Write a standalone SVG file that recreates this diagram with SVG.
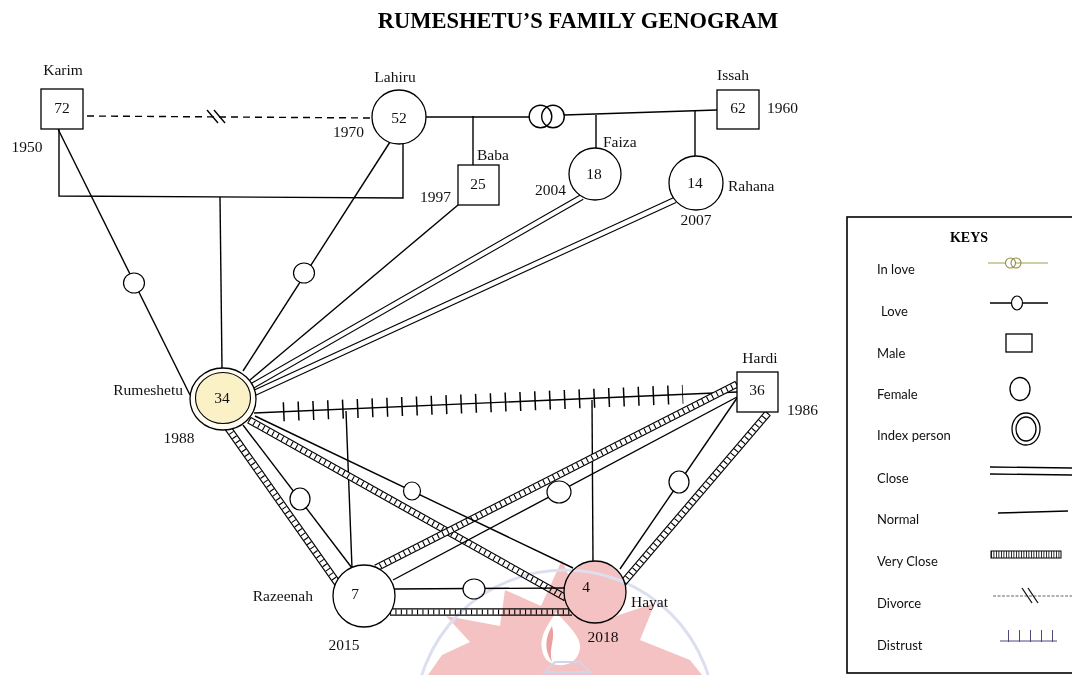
<svg xmlns="http://www.w3.org/2000/svg" xmlns:xlink="http://www.w3.org/1999/xlink" width="1072" height="675" viewBox="0 0 1072 675">
<style>
.t{font-family:"Liberation Serif","Times New Roman",serif;font-size:15.5px;fill:#111}
.c{text-anchor:middle}
.e{text-anchor:end}
.k{font-family:Lato,"Liberation Sans",sans-serif;font-size:13px;fill:#111}
.n{fill:#fff;stroke:#000;stroke-width:1.3}
.ln{fill:none;stroke:#000;stroke-width:1.4}
.lv{fill:#fff;stroke:#000;stroke-width:1.2}
.vo{stroke:#000;stroke-width:7.5}
.vi{stroke:#fff;stroke-width:5.2}
.vr{stroke:#000;stroke-width:5.2;stroke-dasharray:1.1 4.3}
.co{stroke:#000;stroke-width:6.4}
.ci{stroke:#fff;stroke-width:4.2}
</style>
<defs>
<line id="vc1" x1="228" y1="428" x2="338" y2="584"/>
<line id="vc2" x1="249" y1="420" x2="566" y2="598"/>
<line id="vc3" x1="737" y1="384" x2="376" y2="568"/>
<line id="vc4" x1="768" y1="413" x2="623" y2="583"/>
<line id="vc5" x1="390" y1="612" x2="572" y2="612"/>
<line id="cl1" x1="582" y1="197" x2="252" y2="386"/>
<line id="cl2" x1="675" y1="200" x2="254" y2="393"/>
</defs>
<rect width="1072" height="675" fill="#fff"/>
<text x="578" y="28" class="c" style="font-family:'Liberation Serif','Times New Roman',serif;font-weight:bold;font-size:22.5px">RUMESHETU’S FAMILY GENOGRAM</text>

<g id="connectors">
  <line x1="87" y1="116" x2="371" y2="118" class="ln" stroke-dasharray="7 5"/>
  <line x1="207" y1="110" x2="218" y2="123" class="ln"/>
  <line x1="214" y1="110" x2="225" y2="123" class="ln"/>
  <polyline points="426,117 529,117" class="ln"/>
  <polyline points="564,115 717,110" class="ln"/>
  <circle cx="540.5" cy="116.5" r="11.3" class="ln" stroke-width="1.2"/>
  <circle cx="553" cy="116.5" r="11.3" class="ln" stroke-width="1.2"/>
  <line x1="473" y1="116" x2="473" y2="165" class="ln"/>
  <line x1="596" y1="115" x2="596" y2="148" class="ln"/>
  <line x1="695" y1="111" x2="695" y2="156" class="ln"/>
  <polyline points="59,129 59,196 403,198 403,143" class="ln"/>
  <line x1="220" y1="197" x2="222" y2="368" class="ln"/>
  <line x1="58" y1="129" x2="190" y2="395" class="ln"/>
  <line x1="390" y1="142" x2="243" y2="371" class="ln"/>
  <line x1="458" y1="205" x2="250" y2="380" class="ln"/>
  <use xlink:href="#cl1" class="co"/><use xlink:href="#cl1" class="ci"/>
  <use xlink:href="#cl2" class="co"/><use xlink:href="#cl2" class="ci"/>
  <line x1="254" y1="413" x2="737" y2="392" class="ln"/>
  <line x1="283" y1="411.74" x2="683" y2="394.35" stroke="#000" stroke-width="19" stroke-dasharray="1.5 13.3"/>
  <line x1="346" y1="411" x2="352" y2="568" class="ln"/>
  <line x1="592" y1="400" x2="593" y2="562" class="ln"/>
  <use xlink:href="#vc1" class="vo"/><use xlink:href="#vc1" class="vi"/><use xlink:href="#vc1" class="vr"/>
  <use xlink:href="#vc2" class="vo"/><use xlink:href="#vc2" class="vi"/><use xlink:href="#vc2" class="vr"/>
  <use xlink:href="#vc3" class="vo"/><use xlink:href="#vc3" class="vi"/><use xlink:href="#vc3" class="vr"/>
  <use xlink:href="#vc4" class="vo"/><use xlink:href="#vc4" class="vi"/><use xlink:href="#vc4" class="vr"/>
  <use xlink:href="#vc5" class="vo"/><use xlink:href="#vc5" class="vi"/><use xlink:href="#vc5" class="vr"/>
  <line x1="243" y1="425" x2="352" y2="568" class="ln"/>
  <line x1="255" y1="416" x2="573" y2="568" class="ln"/>
  <line x1="737" y1="397" x2="393" y2="580" class="ln"/>
  <line x1="737" y1="398" x2="620" y2="569" class="ln"/>
  <line x1="394" y1="589" x2="565" y2="588" class="ln"/>
  <ellipse cx="134" cy="283" rx="10.5" ry="10" class="lv"/>
  <ellipse cx="304" cy="273" rx="10.5" ry="10" class="lv"/>
  <ellipse cx="300" cy="499" rx="10" ry="11" class="lv"/>
  <ellipse cx="412" cy="491" rx="8.5" ry="9" class="lv"/>
  <ellipse cx="559" cy="492" rx="12" ry="11" class="lv"/>
  <ellipse cx="679" cy="482" rx="10" ry="11" class="lv"/>
  <ellipse cx="474" cy="589" rx="11" ry="10" class="lv"/>
</g>

<g id="karim">
  <rect x="41" y="89" width="42" height="40" class="n"/>
  <text x="62" y="113" class="t c">72</text>
  <text x="63" y="75" class="t c">Karim</text>
  <text x="27" y="152" class="t c">1950</text>
</g>
<g id="lahiru">
  <circle cx="399" cy="117" r="27" class="n"/>
  <text x="399" y="123" class="t c">52</text>
  <text x="395" y="82" class="t c">Lahiru</text>
  <text x="364" y="137" class="t e">1970</text>
</g>
<g id="baba">
  <rect x="458" y="165" width="41" height="40" class="n"/>
  <text x="478" y="189" class="t c">25</text>
  <text x="477" y="160" class="t">Baba</text>
  <text x="451" y="202" class="t e">1997</text>
</g>
<g id="faiza">
  <circle cx="595" cy="174" r="26" class="n"/>
  <text x="594" y="179" class="t c">18</text>
  <text x="603" y="147" class="t">Faiza</text>
  <text x="566" y="195" class="t e">2004</text>
</g>
<g id="issah">
  <rect x="717" y="90" width="42" height="39" class="n"/>
  <text x="738" y="113" class="t c">62</text>
  <text x="733" y="80" class="t c">Issah</text>
  <text x="767" y="113" class="t">1960</text>
</g>
<g id="rahana">
  <circle cx="696" cy="183" r="27" class="n"/>
  <text x="695" y="188" class="t c">14</text>
  <text x="728" y="191" class="t">Rahana</text>
  <text x="696" y="225" class="t c">2007</text>
</g>
<g id="rumeshetu">
  <ellipse cx="223" cy="399" rx="33" ry="31" fill="#fffdf3" stroke="#000" stroke-width="1.3"/>
  <ellipse cx="223" cy="398" rx="27.5" ry="25.5" fill="#fbf1c6" stroke="#000" stroke-width="1.1"/>
  <text x="222" y="403" class="t c">34</text>
  <text x="183" y="395" class="t e">Rumeshetu</text>
  <text x="179" y="443" class="t c">1988</text>
</g>
<g id="hardi">
  <rect x="737" y="372" width="41" height="40" class="n"/>
  <text x="757" y="395" class="t c">36</text>
  <text x="760" y="363" class="t c">Hardi</text>
  <text x="787" y="415" class="t">1986</text>
</g>
<g id="razeenah">
  <circle cx="364" cy="596" r="31" class="n"/>
  <text x="355" y="599" class="t c">7</text>
  <text x="313" y="601" class="t e">Razeenah</text>
  <text x="344" y="650" class="t c">2015</text>
</g>
<g id="hayat">
  <circle cx="595" cy="592" r="31" class="n"/>
  <text x="586" y="592" class="t c">4</text>
  <text x="631" y="607" class="t">Hayat</text>
  <text x="603" y="642" class="t c">2018</text>
</g>

<g id="keys">
  <rect x="847" y="217" width="240" height="456" fill="none" stroke="#000" stroke-width="1.6"/>
  <text x="969" y="242" class="c" style="font-family:'Liberation Serif',serif;font-weight:bold;font-size:14px">KEYS</text>
  <text x="877" y="274" class="k">In love</text>
  <text x="881" y="316" class="k">Love</text>
  <text x="877" y="358" class="k">Male</text>
  <text x="877" y="399" class="k">Female</text>
  <text x="877" y="440" class="k">Index person</text>
  <text x="877" y="483" class="k">Close</text>
  <text x="877" y="524" class="k">Normal</text>
  <text x="877" y="566" class="k">Very Close</text>
  <text x="877" y="608" class="k">Divorce</text>
  <text x="877" y="650" class="k">Distrust</text>
  <line x1="988" y1="263" x2="1048" y2="263" stroke="#a0a050" stroke-width="1.1"/>
  <circle cx="1010.5" cy="263" r="5" fill="#fff" stroke="#8f8f48" stroke-width="1.1"/>
  <circle cx="1016" cy="263" r="5" fill="none" stroke="#8f8f48" stroke-width="1.1"/>
  <line x1="990" y1="303" x2="1048" y2="303" class="ln" stroke-width="1.2"/>
  <ellipse cx="1017" cy="303" rx="5.5" ry="7" class="lv"/>
  <rect x="1006" y="334" width="26" height="18" class="n" stroke-width="1.1"/>
  <ellipse cx="1020" cy="389" rx="10" ry="11.5" class="n" stroke-width="1.1"/>
  <ellipse cx="1026" cy="429" rx="14" ry="16" class="n" stroke-width="1.1"/>
  <ellipse cx="1026" cy="429" rx="10" ry="12" class="n" stroke-width="1.1"/>
  <line x1="990" y1="467" x2="1073" y2="468" class="ln" stroke-width="1.2"/>
  <line x1="990" y1="474" x2="1073" y2="475" class="ln" stroke-width="1.2"/>
  <line x1="998" y1="513" x2="1068" y2="511" class="ln" stroke-width="1.2"/>
  <rect x="991" y="551" width="70" height="7" fill="#fff" stroke="#000" stroke-width="1"/>
  <line x1="991" y1="554.5" x2="1061" y2="554.5" stroke="#000" stroke-width="7" stroke-dasharray="0.8 1.7"/>
  <line x1="993" y1="596" x2="1072" y2="596" stroke="#555" stroke-width="0.9" stroke-dasharray="3 1.5"/>
  <line x1="1022" y1="588" x2="1032" y2="603" stroke="#111" stroke-width="1.3"/>
  <line x1="1028" y1="588" x2="1038" y2="603" stroke="#111" stroke-width="1.3"/>
  <line x1="1000" y1="641" x2="1057" y2="641" stroke="#4a4a80" stroke-width="1"/>
  <line x1="1008" y1="636" x2="1057" y2="636" stroke="#4a4a80" stroke-width="12" stroke-dasharray="1 10"/>
</g>

<g id="watermark" style="mix-blend-mode:multiply">
  <polygon points="562,560 578,598 612,576 604,620 655,603 640,640 690,660 702,675 428,675 442,655 470,642 446,616 500,626 505,590 541,606" fill="#f4c2c2"/>
  <circle cx="595" cy="592" r="30.5" fill="#f4c2c2"/>
  <path d="M556,612 C546,628 536,640 545,658 C552,668 572,668 578,655 C586,640 570,628 556,612 Z" fill="#fff"/>
  <path d="M552,626 C545,638 544,650 552,662 C548,648 556,640 552,626 Z" fill="#eba0a0"/>
  <circle cx="565" cy="720" r="150" fill="none" stroke="#dcdff0" stroke-width="3"/>
  <polygon points="545,672 555,662 580,662 590,672" fill="none" stroke="#d0d5ea" stroke-width="2"/>
</g>
</svg>
